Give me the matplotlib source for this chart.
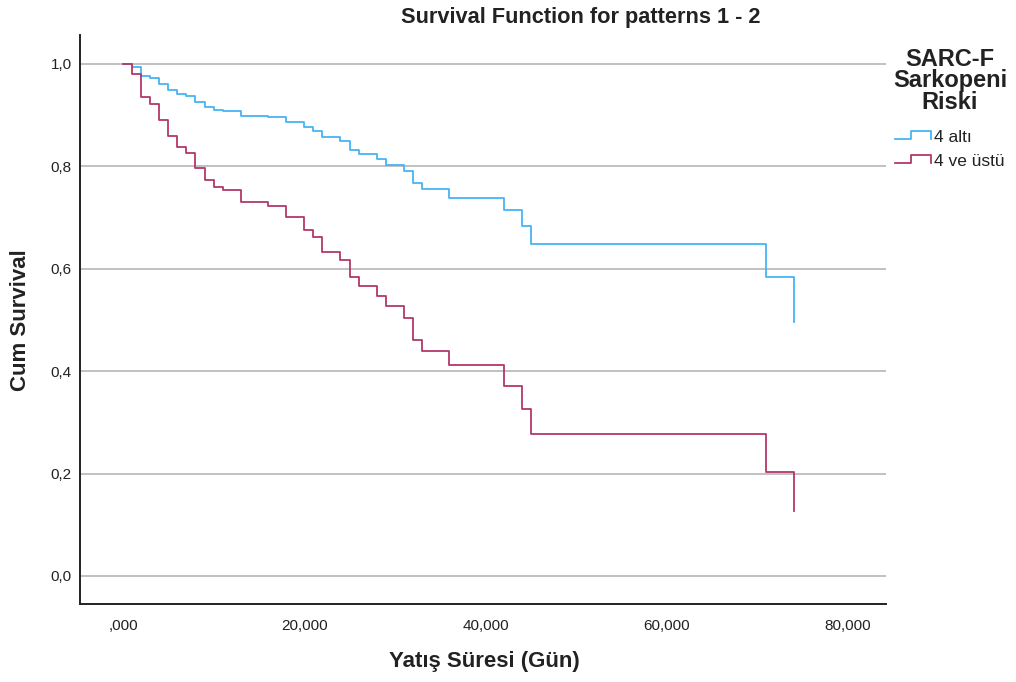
import matplotlib
matplotlib.use("Agg")
import matplotlib.pyplot as plt
from matplotlib.lines import Line2D

plt.rcParams['font.family'] = ['Liberation Sans', 'DejaVu Sans']

# ---- data ----
times = [0, 1000, 2000, 3000, 4000, 5000, 6000, 7000, 8000, 9000, 10000, 11000,
         13000, 16000, 18000, 20000, 21000, 22000, 24000, 25000, 26000, 28000,
         29000, 31000, 32000, 33000, 36000, 42000, 44000, 45000, 71000, 74000]
surv_alti = [1.000, 0.994, 0.976, 0.972, 0.960, 0.949, 0.941, 0.937, 0.925, 0.916,
             0.910, 0.908, 0.899, 0.896, 0.886, 0.876, 0.869, 0.857, 0.849, 0.832,
             0.824, 0.814, 0.803, 0.791, 0.767, 0.756, 0.739, 0.715, 0.684, 0.648,
             0.583, 0.497]
surv_ustu = [1.000, 0.980, 0.936, 0.921, 0.890, 0.859, 0.837, 0.826, 0.797, 0.774,
             0.760, 0.754, 0.731, 0.722, 0.701, 0.676, 0.663, 0.633, 0.617, 0.584,
             0.566, 0.546, 0.527, 0.504, 0.460, 0.439, 0.413, 0.372, 0.327, 0.278,
             0.204, 0.127]
series_labels = ["4 altı", "4 ve üstü"]
legend_title = ["SARC-F", "Sarkopeni", "Riski"]
x_ticks = [0, 20000, 40000, 60000, 80000]
x_ticklabels = [",000", "20,000", "40,000", "60,000", "80,000"]
y_ticks = [0.0, 0.2, 0.4, 0.6, 0.8, 1.0]
y_ticklabels = ["0,0", "0,2", "0,4", "0,6", "0,8", "1,0"]

colors = ["#45B4F6", "#B3386A"]

W, H = 1016, 682
fig = plt.figure(figsize=(W / 100, H / 100), dpi=100)
ax = fig.add_axes([80 / W, 1 - 604 / H, (886 - 80) / W, (604 - 35) / H])

for s, c in zip([surv_alti, surv_ustu], colors):
    ax.step(times, s, where='post', color=c, lw=1.3, zorder=3)

ax.set_xlim(-4745, 84200)
ax.set_ylim(-0.0547, 1.0566)
ax.set_xticks(x_ticks)
ax.set_xticklabels(x_ticklabels)
ax.set_yticks(y_ticks)
ax.set_yticklabels(y_ticklabels)
ax.tick_params(axis='both', length=0, labelsize=11, colors='#222222')
ax.tick_params(axis='x', pad=11)
ax.tick_params(axis='y', pad=6)
ax.yaxis.grid(True, color='#B0B0B0', lw=1.1)
ax.set_axisbelow(True)
for side in ['top', 'right']:
    ax.spines[side].set_visible(False)
for side in ['left', 'bottom']:
    ax.spines[side].set_color('#222222')
    ax.spines[side].set_linewidth(1.4)

ax.set_xlabel("Yatış Süresi (Gün)", fontsize=16, fontweight='bold', color='#222222',
              va='center')
ax.xaxis.set_label_coords((484 - 80) / 806, (604 - 662) / 569)
ax.set_ylabel("Cum Survival", fontsize=16, fontweight='bold', color='#222222',
              va='center')
ax.yaxis.set_label_coords((20 - 80) / 806, (604 - 320) / 569)

fig.text(581 / W, 1 - 17 / H, "Survival Function for patterns 1 - 2",
         ha='center', va='center', fontsize=15.7, fontweight='bold', color='#222222')

# legend (manual placement)
for i, t in enumerate(legend_title):
    fig.text(950 / W, 1 - (66 + 21.5 * i) / H, t, ha='center', va='baseline',
             fontsize=17, fontweight='bold', color='#222222')

hx = [895, 911, 911, 931, 931]
hy = [0, 0, -8, -8, 0]
for i, (lab, c) in enumerate(zip(series_labels, colors)):
    base = 139 + 24 * i
    fig.add_artist(Line2D([x / W for x in hx], [1 - (base + d) / H for d in hy],
                          transform=fig.transFigure, color=c, lw=1.3))
    fig.text(934 / W, 1 - (base + 2.5) / H, lab, ha='left', va='baseline',
             fontsize=12.5, color='#222222')

fig.savefig("out.png", dpi=100)
